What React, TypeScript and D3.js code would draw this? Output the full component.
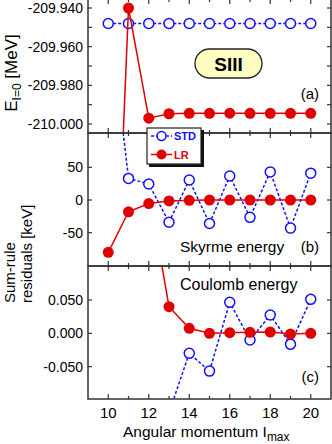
import React, { useEffect, useRef } from "react";
import * as d3 from "d3";

// angular momentum cut-off
const lmax = [10, 11, 12, 13, 14, 15, 16, 17, 18, 19, 20];

// (a) energy of the I=0 state [MeV]
const stdEnergy = [-209.948, -209.948, -209.948, -209.948, -209.948, -209.948, -209.948, -209.948, -209.948, -209.948, -209.948];
const lrEnergy = [-210.19, -209.94, -209.997, -209.9947, -209.9945, -209.9945, -209.9944, -209.9945, -209.9945, -209.9945, -209.9945];

// (b) sum-rule residuals, Skyrme energy [keV]
const stdSkyrme = [300, 33, 24.5, -34, 30.6, -36, 36.7, -26.5, 43, -43, 41];
const lrSkyrme = [-80, -18, -5.5, -1.5, -0.5, 0, 0, 0, 0, 0, 0];

// (c) sum-rule residuals, Coulomb energy [keV]
const stdCoulomb = [null, null, null, -0.119, -0.03, -0.0566, 0.0465, -0.01, 0.0275, -0.0165, 0.051];
const lrCoulomb = [null, null, 0.215, 0.04, 0.0075, 0, 0.001, 0.0015, 0.002, -0.001, 0];

// tick values and labels
const energyTicks = [-209.94, -209.96, -209.98, -210.0];
const energyTickLabels = ["-209.940", "-209.960", "-209.980", "-210.000"];
const energyMinor = [-209.95, -209.97, -209.99];
const skyrmeTicks = [50, 0, -50];
const skyrmeTickLabels = ["50", "0", "-50"];
const coulombTicks = [0.05, 0, -0.05];
const coulombTickLabels = ["0.050", "0.000", "-0.050"];
const xTicks = [10, 11, 12, 13, 14, 15, 16, 17, 18, 19, 20];

const BLUE = "#1010ff";
const RED = "#e00000";
const AXIS = "#333";
const FONT = "'Liberation Sans', Arial, sans-serif";

const App = () => {
  const ref = useRef<SVGSVGElement>(null);

  useEffect(() => {
    const svg = d3.select(ref.current);
    svg.selectAll("*").remove();

    const left = 88;
    const right = 331;
    const x = d3.scaleLinear().domain([9, 21]).range([left, right]);

    const panels = [
      {
        id: "a", top: -1, bottom: 133,
        y: d3.scaleLinear().domain([-210, -209.94]).range([124, 8]),
        ticks: energyTicks, labels: energyTickLabels, minor: energyMinor,
        std: stdEnergy, lr: lrEnergy,
      },
      {
        id: "b", top: 133, bottom: 266,
        y: d3.scaleLinear().domain([-50, 50]).range([232.7, 167.3]),
        ticks: skyrmeTicks, labels: skyrmeTickLabels, minor: [],
        std: stdSkyrme, lr: lrSkyrme,
      },
      {
        id: "c", top: 266, bottom: 399,
        y: d3.scaleLinear().domain([-0.05, 0.05]).range([366.7, 300]),
        ticks: coulombTicks, labels: coulombTickLabels, minor: [],
        std: stdCoulomb, lr: lrCoulomb,
      },
    ];

    const defs = svg.append("defs");

    panels.forEach((p) => {
      defs
        .append("clipPath")
        .attr("id", "clip-" + p.id)
        .append("rect")
        .attr("x", left)
        .attr("y", p.top)
        .attr("width", right - left)
        .attr("height", p.bottom - p.top);

      const g = svg.append("g");

      // y ticks, left and right, inward
      [...p.ticks, ...p.minor].forEach((t) => {
        const yy = p.y(t);
        g.append("line").attr("x1", left).attr("x2", left + 4).attr("y1", yy).attr("y2", yy)
          .attr("stroke", AXIS).attr("stroke-width", 1.2);
        g.append("line").attr("x1", right).attr("x2", right - 4).attr("y1", yy).attr("y2", yy)
          .attr("stroke", AXIS).attr("stroke-width", 1.2);
      });
      p.ticks.forEach((t, i) => {
        g.append("text")
          .attr("x", left - 5)
          .attr("y", p.y(t) + 5)
          .attr("text-anchor", "end")
          .style("font-family", FONT)
          .style("font-size", "14px")
          .text(p.labels[i]);
      });

      // x ticks top and bottom, inward
      xTicks.forEach((t) => {
        const len = t % 2 === 0 ? 5 : 3;
        g.append("line").attr("x1", x(t)).attr("x2", x(t)).attr("y1", p.bottom).attr("y2", p.bottom - len)
          .attr("stroke", AXIS).attr("stroke-width", 1.2);
        g.append("line").attr("x1", x(t)).attr("x2", x(t)).attr("y1", p.top).attr("y2", p.top + len)
          .attr("stroke", AXIS).attr("stroke-width", 1.2);
      });

      const data = lmax.map((l, i) => ({ l, std: p.std[i], lr: p.lr[i] }));
      const plot = g.append("g").attr("clip-path", "url(#clip-" + p.id + ")");

      const stdLine = d3.line<any>().defined((d) => d.std !== null).x((d) => x(d.l)).y((d) => p.y(d.std));
      const lrLine = d3.line<any>().defined((d) => d.lr !== null).x((d) => x(d.l)).y((d) => p.y(d.lr));

      plot.append("path").datum(data).attr("d", stdLine).attr("fill", "none")
        .attr("stroke", BLUE).attr("stroke-width", 1.5).attr("stroke-dasharray", "3,2");
      plot.selectAll(".std").data(data.filter((d) => d.std !== null)).enter().append("circle")
        .attr("cx", (d) => x(d.l)).attr("cy", (d) => p.y(d.std as number)).attr("r", 5)
        .attr("fill", "white").attr("stroke", BLUE).attr("stroke-width", 1.5);

      plot.append("path").datum(data).attr("d", lrLine).attr("fill", "none")
        .attr("stroke", RED).attr("stroke-width", 1.5);
      plot.selectAll(".lr").data(data.filter((d) => d.lr !== null)).enter().append("circle")
        .attr("cx", (d) => x(d.l)).attr("cy", (d) => p.y(d.lr as number)).attr("r", 5.5)
        .attr("fill", RED);

      g.append("rect").attr("x", left).attr("y", p.top).attr("width", right - left).attr("height", p.bottom - p.top)
        .attr("fill", "none").attr("stroke", AXIS).attr("stroke-width", 1.5);
    });

    // x tick labels
    xTicks.filter((t) => t % 2 === 0).forEach((t) => {
      svg.append("text").attr("x", x(t)).attr("y", 418).attr("text-anchor", "middle")
        .style("font-family", FONT).style("font-size", "15px").text(t);
    });

    const xt = svg.append("text").attr("x", 123).attr("y", 437)
      .style("font-family", FONT).style("font-size", "15.5px");
    xt.append("tspan").text("Angular momentum I");
    xt.append("tspan").attr("dy", 4).style("font-size", "12px").text("max");

    // y titles
    const ea = svg.append("text").attr("transform", "translate(17,73) rotate(-90)")
      .attr("text-anchor", "middle").style("font-family", FONT).style("font-size", "17px");
    ea.append("tspan").text("E");
    ea.append("tspan").attr("dy", 4).style("font-size", "12px").text("I=0");
    ea.append("tspan").attr("dy", -4).text(" [MeV]");

    svg.append("text").attr("transform", "translate(15,303) rotate(-90)")
      .style("font-family", FONT).style("font-size", "15px").text("Sum-rule");
    svg.append("text").attr("transform", "translate(32,303) rotate(-90)")
      .style("font-family", FONT).style("font-size", "15px").text("residuals [keV]");

    // panel annotations
    const note = (tx: number, ty: number, s: string, size: number, anchor = "start") =>
      svg.append("text").attr("x", tx).attr("y", ty).attr("text-anchor", anchor)
        .style("font-family", FONT).style("font-size", size + "px").text(s);
    note(319, 99, "(a)", 15, "end");
    note(319, 252, "(b)", 15, "end");
    note(319, 382, "(c)", 15, "end");
    note(180, 252, "Skyrme energy", 15.5);
    note(180, 290, "Coulomb energy", 16);

    // SIII badge
    svg.append("rect").attr("x", 195).attr("y", 49).attr("width", 67).attr("height", 29).attr("rx", 14.5)
      .attr("fill", "#ffffc4").attr("stroke", "#222").attr("stroke-width", 1.3);
    svg.append("text").attr("x", 228.5).attr("y", 70.5).attr("text-anchor", "middle")
      .style("font-family", FONT).style("font-size", "19px").style("font-weight", "bold").text("SIII");

    // legend
    const lg = svg.append("g");
    lg.append("rect").attr("x", 149).attr("y", 130).attr("width", 55).attr("height", 37).attr("fill", "#111");
    lg.append("rect").attr("x", 147).attr("y", 128).attr("width", 54).attr("height", 36)
      .attr("fill", "white").attr("stroke", "#222").attr("stroke-width", 1.2);
    lg.append("line").attr("x1", 151).attr("x2", 172).attr("y1", 136).attr("y2", 136)
      .attr("stroke", BLUE).attr("stroke-width", 1.5).attr("stroke-dasharray", "3,2");
    lg.append("circle").attr("cx", 161.5).attr("cy", 136).attr("r", 4.5)
      .attr("fill", "white").attr("stroke", BLUE).attr("stroke-width", 1.5);
    lg.append("text").attr("x", 174).attr("y", 140).attr("fill", BLUE)
      .style("font-family", FONT).style("font-size", "11px").style("font-weight", "bold").text("STD");
    lg.append("line").attr("x1", 151).attr("x2", 172).attr("y1", 154.5).attr("y2", 154.5)
      .attr("stroke", RED).attr("stroke-width", 1.5);
    lg.append("circle").attr("cx", 161.5).attr("cy", 154.5).attr("r", 5).attr("fill", RED);
    lg.append("text").attr("x", 174).attr("y", 158.5).attr("fill", RED)
      .style("font-family", FONT).style("font-size", "11px").style("font-weight", "bold").text("LR");
  }, []);

  return (
    <svg
      ref={ref}
      width={332}
      height={444}
      style={{ position: "absolute", left: 0, top: 0, background: "white" }}
    ></svg>
  );
};

export default App;
